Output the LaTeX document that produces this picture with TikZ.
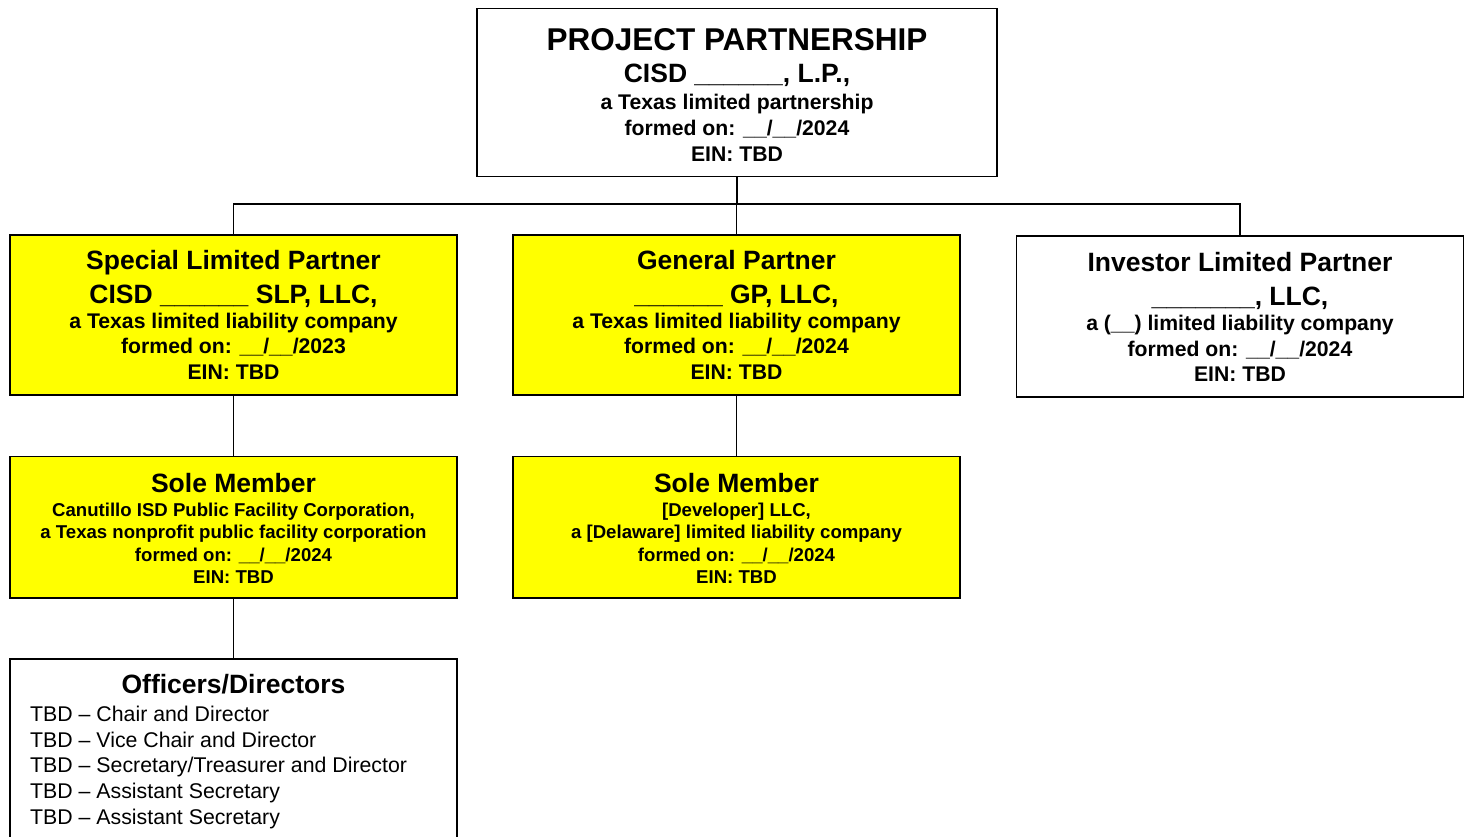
\documentclass[tikz,border=0pt]{standalone}
\usepackage{fontspec}
\setmainfont{Liberation Sans}
\definecolor{boxyellow}{RGB}{255,255,0}
\newcommand\fHa{\fontsize{31.5}{34}\selectfont\bfseries}
\newcommand\fHb{\fontsize{26.5}{30}\selectfont\bfseries}
\newcommand\fBd{\fontsize{21.2}{25}\selectfont\bfseries}
\newcommand\fSm{\fontsize{18.6}{22}\selectfont\bfseries}
\newcommand\fRg{\fontsize{21.3}{25}\selectfont}
\begin{document}
\begin{tikzpicture}[x=1pt,y=-1pt,
  orgbox/.style={draw=black,line width=1.8pt,rectangle,inner sep=0pt,minimum width=447pt},
  yel/.style={orgbox,fill=boxyellow},
  wht/.style={orgbox,fill=white},
  ln/.style={anchor=base,inner sep=0pt},
  lnl/.style={anchor=base west,inner sep=0pt},
  conn/.style={draw=black,line width=1.6pt}]
\useasboundingbox (0,0) rectangle (1468,837);
\clip (0,0) rectangle (1468,837);
\fill[white] (0,0) rectangle (1468,837);

% boxes
\node[wht,minimum width=520pt,minimum height=168pt] (top) at (737,92.5) {};
\node[yel,minimum height=160pt] (slp) at (233.5,315) {};
\node[yel,minimum height=160pt] (gp) at (736.5,315) {};
\node[wht,minimum height=161pt] (ilp) at (1240,316.5) {};
\node[yel,minimum height=141.5pt] (sma) at (233.5,527.25) {};
\node[yel,minimum height=141.5pt] (smb) at (736.5,527.25) {};
\node[wht,minimum height=220pt] (off) at (233.5,769) {};

% connectors
\coordinate (bus) at (0,204);
\draw[conn] (top.south) -- (top.south |- bus);
\draw[conn] (slp.north) |- (ilp.north |- bus) -- (ilp.north);
\draw[conn] (gp.north) -- (gp.north |- bus);
\draw[conn] (slp.south) -- (sma.north);
\draw[conn] (gp.south) -- (smb.north);
\draw[conn] (sma.south) -- (off.north);

% top box text
\node[ln] (t1) at (737,50.5) {\fHa PROJECT PARTNERSHIP};
\node[ln] (t2) at (737,83) {\fHb CISD \_\_\_\_\_\_, L.P.,};
\node[ln] (t3) at (737,109.5) {\fBd a Texas limited partnership};
\node[ln] (t4) at (737,135.3) {\fBd formed on: \_\_/\_\_/2024};
\node[ln] (t5) at (737,161.3) {\fBd EIN: TBD};

% SLP text
\node[ln] (s1) at (233.5,269.8) {\fHb Special Limited Partner};
\node[ln] (s2) at (233.5,303) {\fHb CISD \_\_\_\_\_\_ SLP, LLC,};
\node[ln] (s3) at (233.5,328.6) {\fBd a Texas limited liability company};
\node[ln] (s4) at (233.5,353.6) {\fBd formed on: \_\_/\_\_/2023};
\node[ln] (s5) at (233.5,379.3) {\fBd EIN: TBD};

% GP text
\node[ln] (g1) at (736.5,269.8) {\fHb General Partner};
\node[ln] (g2) at (736.5,303) {\fHb \_\_\_\_\_\_ GP, LLC,};
\node[ln] (g3) at (736.5,328.6) {\fBd a Texas limited liability company};
\node[ln] (g4) at (736.5,353.6) {\fBd formed on: \_\_/\_\_/2024};
\node[ln] (g5) at (736.5,379.3) {\fBd EIN: TBD};

% ILP text
\node[ln] (i1) at (1240,271.3) {\fHb Investor Limited Partner};
\node[ln] (i2) at (1240,305.3) {\fHb \_\_\_\_\_\_\_, LLC,};
\node[ln] (i3) at (1240,330.8) {\fBd a (\_\_) limited liability company};
\node[ln] (i4) at (1240,356) {\fBd formed on: \_\_/\_\_/2024};
\node[ln] (i5) at (1240,381.3) {\fBd EIN: TBD};

% Sole member 1
\node[ln] (a1) at (233.5,492) {\fHb Sole Member};
\node[ln] (a2) at (233.5,516.3) {\fSm Canutillo ISD Public Facility Corporation,};
\node[ln] (a3) at (233.5,538.6) {\fSm a Texas nonprofit public facility corporation};
\node[ln] (a4) at (233.5,561) {\fSm formed on: \_\_/\_\_/2024};
\node[ln] (a5) at (233.5,583) {\fSm EIN: TBD};

% Sole member 2
\node[ln] (b1) at (736.5,492) {\fHb Sole Member};
\node[ln] (b2) at (736.5,516.3) {\fSm [Developer] LLC,};
\node[ln] (b3) at (736.5,538.6) {\fSm a [Delaware] limited liability company};
\node[ln] (b4) at (736.5,561) {\fSm formed on: \_\_/\_\_/2024};
\node[ln] (b5) at (736.5,583) {\fSm EIN: TBD};

% Officers
\node[ln] (o0) at (233.5,693.6) {\fHb Officers/Directors};
\node[lnl] (o1) at (30,721) {\fRg TBD – Chair and Director};
\node[lnl] (o2) at (30,747) {\fRg TBD – Vice Chair and Director};
\node[lnl] (o3) at (30,772.6) {\fRg TBD – Secretary/Treasurer and Director};
\node[lnl] (o4) at (30,798.6) {\fRg TBD – Assistant Secretary};
\node[lnl] (o5) at (30,824.3) {\fRg TBD – Assistant Secretary};
\end{tikzpicture}
\end{document}
